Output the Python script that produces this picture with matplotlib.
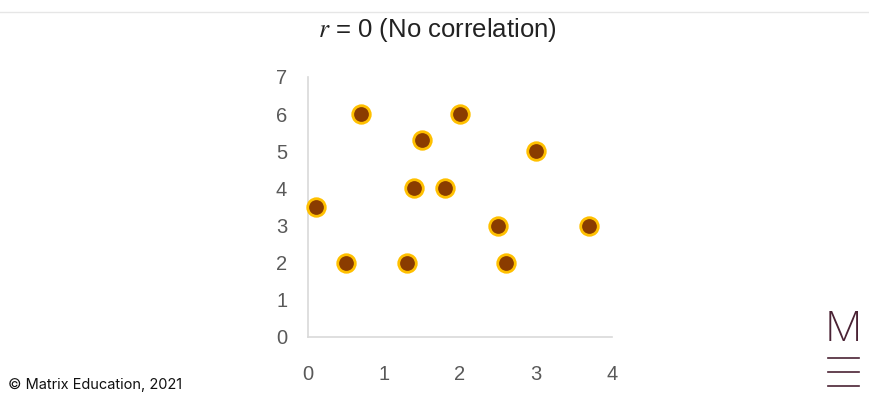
"""Scatter chart: r = 0 (No correlation)"""

import matplotlib

matplotlib.use("Agg")
import matplotlib.pyplot as plt
from matplotlib.lines import Line2D

x_vals = [0.1, 0.5, 0.7, 1.3, 1.4, 1.5, 1.8, 2.0, 2.5, 2.6, 3.0, 3.7]
y_vals = [3.5, 2.0, 6.0, 2.0, 4.0, 5.3, 4.0, 6.0, 3.0, 2.0, 5.0, 3.0]
x_ticks = [0, 1, 2, 3, 4]
y_ticks = [0, 1, 2, 3, 4, 5, 6, 7]

plt.rcParams["font.family"] = ["Liberation Sans", "DejaVu Sans"]
plt.rcParams["mathtext.fontset"] = "stix"

fig = plt.figure(figsize=(8.7, 4.0), dpi=100)
ax = fig.add_axes([308 / 870, 1 - 337 / 400, 304 / 870, 260 / 400])

ax.scatter(x_vals, y_vals, s=160, color="#8a3c00", edgecolors="#ffc000",
           linewidths=2.0, zorder=3, clip_on=False)

ax.set_xlim(0, 4)
ax.set_ylim(0, 7)
ax.set_xticks(x_ticks)
ax.set_yticks(y_ticks)
ax.tick_params(length=0, labelsize=14.5, colors="#595959")
ax.tick_params(axis="y", pad=15)
ax.tick_params(axis="x", pad=20)
for side in ("top", "right"):
    ax.spines[side].set_visible(False)
for side in ("left", "bottom"):
    ax.spines[side].set_color("#d9d9d9")
    ax.spines[side].set_linewidth(1.2)

fig.text(437 / 870, 1 - 30 / 400, r"$r$ = 0 (No correlation)", ha="center",
         va="center", fontsize=18.5, color="#222222")

# top rule
fig.add_artist(Line2D([0, 1], [1 - 12 / 400, 1 - 12 / 400], color="#e6e6e6",
                      linewidth=1, transform=fig.transFigure))

fig.text(8 / 870, 1 - 385 / 400, "\u00a9 Matrix Education, 2021", ha="left",
         va="center", fontsize=10.5, color="#111111", family=["Inter", "DejaVu Sans"])

# logo
logo = "#4a2234"
fig.text(843.5 / 870, 1 - 330 / 400, "M", ha="center", va="center", fontsize=30,
         color=logo, family=["Inter", "DejaVu Sans"], fontweight="light")
for yy in (358, 372, 386):
    fig.add_artist(Line2D([828 / 870, 859 / 870], [1 - yy / 400, 1 - yy / 400],
                          color=logo, linewidth=1.2, transform=fig.transFigure))

fig.savefig("out.png", dpi=100, facecolor="white")
plt.close(fig)
